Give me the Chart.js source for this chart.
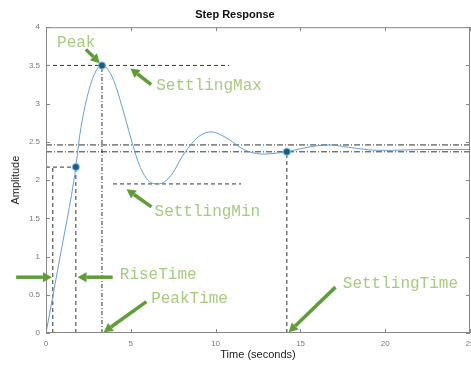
<!DOCTYPE html>
<html>
<head>
<meta charset="utf-8">
<script src="https://cdn.jsdelivr.net/npm/chart.js@4.4.1/dist/chart.umd.min.js"></script>
<style>
  html, body { margin: 0; padding: 0; background: #fff; overflow: hidden; }
  #wrap { width: 471px; height: 365px; }
</style>
</head>
<body>
<div id="wrap"><canvas id="c" width="471" height="365"></canvas></div>
<script>
// step response
const timeVals = [0, 0.5, 1.0, 1.5, 1.76, 2.0, 2.5, 3.0, 3.3, 3.6, 4.0, 4.5, 5.0, 5.5, 6.0, 6.6, 7.0, 7.5, 8.0, 8.5, 9.0, 9.75, 10.5, 11.0, 11.5, 12.0, 12.8, 13.5, 14.2, 15.0, 16.0, 16.7, 17.5, 18.5, 19.5, 20.5, 22.0, 23.5, 25.0];
const ampVals  = [0, 0.6, 1.2, 1.8, 2.17, 2.6, 3.15, 3.45, 3.5, 3.46, 3.3, 2.95, 2.55, 2.2, 2.0, 1.95, 1.98, 2.1, 2.3, 2.45, 2.57, 2.63, 2.57, 2.5, 2.42, 2.37, 2.34, 2.35, 2.37, 2.41, 2.45, 2.46, 2.44, 2.41, 2.39, 2.39, 2.40, 2.40, 2.40];

// stepinfo points: rise, peak, settling
const infoT = [1.76, 3.3, 14.2];
const infoV = [2.17, 3.5, 2.37];

const xTicks = [0, 5, 10, 15, 20, 25];
const yTicks = [0, 0.5, 1, 1.5, 2, 2.5, 3, 3.5, 4];

// dashed guide lines [t0, v0, t1, v1, dash]
const guides = [
  [0, 3.5, 10.8, 3.5, [4, 3]],
  [3.3, 0, 3.3, 3.5, [4, 2, 1, 2]],
  [0.4, 0, 0.4, 2.17, [4, 3]],
  [1.76, 0, 1.76, 2.17, [4, 3]],
  [0, 2.17, 1.76, 2.17, [4, 3]],
  [3.95, 1.95, 11.5, 1.95, [4, 3]],
  [0, 2.46, 25, 2.46, [6, 2, 1, 2]],
  [0, 2.37, 25, 2.37, [6, 2, 1, 2]],
  [14.2, 0, 14.2, 2.37, [4, 3]]
];

// green labels [text, t, v]
const labels = [
  ['Peak', 0.65, 3.8],
  ['SettlingMax', 6.5, 3.23],
  ['SettlingMin', 6.4, 1.59],
  ['RiseTime', 4.35, 0.76],
  ['PeakTime', 6.2, 0.45],
  ['SettlingTime', 17.5, 0.64]
];

// green arrows [tailT, tailV, headT, headV]
const arrows = [
  [2.35, 3.71, 3.17, 3.53],
  [6.2, 3.25, 4.98, 3.46],
  [6.22, 1.65, 4.75, 1.88],
  [-1.76, 0.73, 0.35, 0.73],
  [3.93, 0.73, 1.86, 0.73],
  [5.92, 0.41, 3.4, 0.01],
  [17.07, 0.6, 14.31, 0.01]
];

const tickFont = '8px "Liberation Sans", sans-serif';

const boxAndMarks = {
  id: 'boxAndMarks',
  beforeDatasetsDraw(chart) {
    const ctx = chart.ctx, x = chart.scales.x, y = chart.scales.y;
    ctx.save();
    ctx.strokeStyle = '#333';
    ctx.lineWidth = 1;
    guides.forEach(g => {
      ctx.setLineDash(g[4]);
      ctx.beginPath();
      ctx.moveTo(x.getPixelForValue(g[0]), y.getPixelForValue(g[1]));
      ctx.lineTo(x.getPixelForValue(g[2]), y.getPixelForValue(g[3]));
      ctx.stroke();
    });
    ctx.restore();
  },
  afterDatasetsDraw(chart) {
    const ctx = chart.ctx, a = chart.chartArea, x = chart.scales.x, y = chart.scales.y;
    ctx.save();
    // axes box with inward ticks
    ctx.strokeStyle = '#888';
    ctx.lineWidth = 1;
    ctx.strokeRect(a.left + 0.5, a.top + 0.5, a.right - a.left - 1, a.bottom - a.top - 1);
    ctx.beginPath();
    xTicks.forEach(t => {
      const px = Math.round(x.getPixelForValue(t)) + 0.5;
      ctx.moveTo(px, a.bottom); ctx.lineTo(px, a.bottom - 4);
      ctx.moveTo(px, a.top); ctx.lineTo(px, a.top + 4);
    });
    yTicks.forEach(v => {
      const py = Math.round(y.getPixelForValue(v)) + 0.5;
      ctx.moveTo(a.left, py); ctx.lineTo(a.left + 4, py);
      ctx.moveTo(a.right, py); ctx.lineTo(a.right - 4, py);
    });
    ctx.stroke();

    // last x tick label, clipped by the canvas edge like the original
    const last = xTicks[xTicks.length - 1];
    ctx.fillStyle = '#777';
    ctx.font = tickFont;
    ctx.textAlign = 'center';
    ctx.textBaseline = 'middle';
    ctx.fillText(String(last), x.getPixelForValue(last), a.bottom + 11);

    // arrows
    ctx.strokeStyle = '#5f9e35';
    ctx.fillStyle = '#5f9e35';
    ctx.lineWidth = 3.5;
    arrows.forEach(r => {
      const x0 = x.getPixelForValue(r[0]), y0 = y.getPixelForValue(r[1]);
      const x1 = x.getPixelForValue(r[2]), y1 = y.getPixelForValue(r[3]);
      const ang = Math.atan2(y1 - y0, x1 - x0);
      const hl = 9, hw = 5;
      const bx = x1 - hl * Math.cos(ang), by = y1 - hl * Math.sin(ang);
      ctx.beginPath();
      ctx.moveTo(x0, y0); ctx.lineTo(bx, by);
      ctx.stroke();
      ctx.beginPath();
      ctx.moveTo(x1, y1);
      ctx.lineTo(bx + hw * Math.sin(ang), by - hw * Math.cos(ang));
      ctx.lineTo(bx - hw * Math.sin(ang), by + hw * Math.cos(ang));
      ctx.closePath();
      ctx.fill();
    });

    // labels
    ctx.fillStyle = '#a6cb7c';
    ctx.font = '16px "Liberation Mono", "DejaVu Sans Mono", monospace';
    ctx.textBaseline = 'middle';
    ctx.textAlign = 'left';
    labels.forEach(l => {
      ctx.fillText(l[0], x.getPixelForValue(l[1]), y.getPixelForValue(l[2]));
    });
    ctx.restore();
  }
};

new Chart(document.getElementById('c'), {
  type: 'line',
  data: {
    datasets: [
      {
        type: 'scatter',
        data: infoT.map((t, i) => ({ x: t, y: infoV[i] })),
        pointRadius: 3.5,
        pointBackgroundColor: '#1d5a86',
        pointBorderColor: 'rgba(120,200,235,0.6)',
        pointBorderWidth: 1.5
      },
      {
        data: timeVals.map((t, i) => ({ x: t, y: ampVals[i] })),
        borderColor: '#629ed8',
        borderWidth: 1,
        pointRadius: 0,
        cubicInterpolationMode: 'monotone',
        fill: false
      }
    ]
  },
  options: {
    responsive: false,
    animation: false,
    layout: { autoPadding: false, padding: { left: 0, right: 1, top: 0, bottom: 0 } },
    plugins: {
      legend: { display: false },
      tooltip: { enabled: false },
      title: {
        display: true,
        text: 'Step Response',
        color: '#111',
        font: { family: 'Liberation Sans', size: 11, weight: 'bold' },
        padding: { top: 8, bottom: 6 }
      }
    },
    scales: {
      x: {
        type: 'linear',
        min: 0,
        max: 25,
        afterBuildTicks(s) { s.ticks = xTicks.map(v => ({ value: v })); },
        ticks: {
          color: '#777',
          font: { family: 'Liberation Sans', size: 8 },
          padding: 6,
          callback: v => (v === xTicks[xTicks.length - 1] ? '' : String(v))
        },
        grid: { display: false, drawTicks: false },
        border: { display: false },
        title: {
          display: true,
          text: 'Time (seconds)',
          color: '#222',
          font: { family: 'Liberation Sans', size: 11 },
          padding: { top: 0, bottom: 3 }
        },
        afterFit(s) { s.height = 32; s.paddingLeft = 0; s.paddingRight = 0; }
      },
      y: {
        min: 0,
        max: 4,
        afterBuildTicks(s) { s.ticks = yTicks.map(v => ({ value: v })); },
        ticks: { color: '#777', font: { family: 'Liberation Sans', size: 8 }, padding: 6, callback: v => String(v) },
        grid: { display: false, drawTicks: false },
        border: { display: false },
        title: {
          display: true,
          text: 'Amplitude',
          color: '#222',
          font: { family: 'Liberation Sans', size: 11 },
          padding: { top: 9, bottom: 0 }
        },
        afterFit(s) { s.width = 46; }
      }
    }
  },
  plugins: [boxAndMarks]
});
</script>
</body>
</html>
